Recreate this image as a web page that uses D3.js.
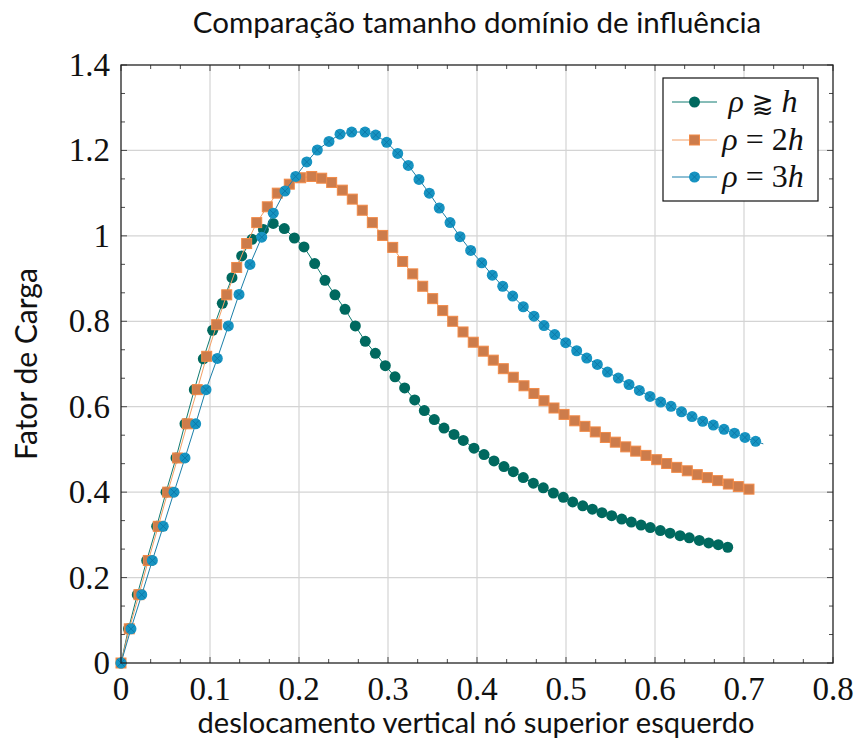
<!DOCTYPE html>
<html>
<head>
<meta charset="utf-8">
<script src="https://cdn.jsdelivr.net/npm/d3@7/dist/d3.min.js"></script>
<style>
  html, body { margin: 0; padding: 0; background: #fff; }
  svg { display: block; }
</style>
</head>
<body>
<svg id="chart" width="855" height="742"></svg>
<script>
// Load factor vs. vertical displacement of the upper-left node,
// for three sizes of the influence domain.
const chartTitle = "Comparação tamanho domínio de influência";
const xLabel = "deslocamento vertical nó superior esquerdo";
const yLabel = "Fator de Carga";

const xTicks = [0, 0.1, 0.2, 0.3, 0.4, 0.5, 0.6, 0.7, 0.8];
const xTickLabels = ["0", "0.1", "0.2", "0.3", "0.4", "0.5", "0.6", "0.7", "0.8"];
const yTicks = [0, 0.2, 0.4, 0.6, 0.8, 1.0, 1.2, 1.4];
const yTickLabels = ["0", "0.2", "0.4", "0.6", "0.8", "1", "1.2", "1.4"];

// rho ⪆ h
const disp1 = [0, 0.0084, 0.0183, 0.0289, 0.0401, 0.0506, 0.0618, 0.0719, 0.0824, 0.0925,
  0.103, 0.1138, 0.1247, 0.1356, 0.1472, 0.160, 0.171, 0.1835, 0.1948, 0.2056,
  0.2176, 0.2292, 0.2404, 0.2517, 0.2633, 0.2745, 0.2858, 0.297, 0.3079, 0.3187,
  0.330, 0.3408, 0.352, 0.3629, 0.3742, 0.3846, 0.3966, 0.4079, 0.4191, 0.4303,
  0.4408, 0.452, 0.4633, 0.4745, 0.4858, 0.497, 0.5075, 0.5188, 0.5296, 0.5404,
  0.5513, 0.5626, 0.5734, 0.5843, 0.5947, 0.606, 0.6169, 0.6281, 0.6385, 0.6498,
  0.6603, 0.6711, 0.6817];
const load1 = [0, 0.08, 0.16, 0.24, 0.32, 0.40, 0.48, 0.56, 0.64, 0.712,
  0.779, 0.842, 0.902, 0.953, 0.992, 1.015, 1.029, 1.017, 0.995, 0.974,
  0.935, 0.896, 0.862, 0.828, 0.789, 0.753, 0.725, 0.696, 0.670, 0.644,
  0.616, 0.591, 0.570, 0.550, 0.535, 0.521, 0.503, 0.488, 0.473, 0.460,
  0.448, 0.434, 0.421, 0.410, 0.398, 0.388, 0.377, 0.368, 0.360, 0.352,
  0.345, 0.337, 0.330, 0.323, 0.317, 0.310, 0.304, 0.298, 0.293, 0.287,
  0.281, 0.277, 0.271];

// rho = 2h
const disp2 = [0, 0.0093, 0.0202, 0.0307, 0.0419, 0.0525, 0.0637, 0.0745, 0.0857, 0.0963,
  0.1075, 0.1188, 0.130, 0.1412, 0.1525, 0.1644, 0.1756, 0.1891, 0.2019, 0.2143,
  0.2255, 0.2367, 0.2487, 0.2599, 0.2711, 0.2824, 0.294, 0.3053, 0.3165, 0.3278,
  0.339, 0.3502, 0.3615, 0.3727, 0.3843, 0.3958, 0.4071, 0.4183, 0.4296, 0.4408,
  0.4528, 0.464, 0.4753, 0.4865, 0.4978, 0.5098, 0.5213, 0.5329, 0.5442, 0.5554,
  0.5671, 0.5783, 0.5899, 0.6019, 0.6131, 0.6244, 0.6363, 0.6475, 0.6588, 0.6704,
  0.6824, 0.6936, 0.7056];
const load2 = [0, 0.08, 0.16, 0.24, 0.32, 0.40, 0.48, 0.56, 0.64, 0.718,
  0.792, 0.862, 0.926, 0.982, 1.031, 1.068, 1.100, 1.121, 1.136, 1.139,
  1.135, 1.125, 1.107, 1.086, 1.060, 1.031, 1.001, 0.973, 0.940, 0.911,
  0.882, 0.853, 0.825, 0.800, 0.775, 0.751, 0.730, 0.709, 0.689, 0.669,
  0.649, 0.631, 0.614, 0.597, 0.582, 0.567, 0.554, 0.541, 0.528, 0.517,
  0.506, 0.496, 0.486, 0.476, 0.467, 0.458, 0.450, 0.441, 0.434, 0.427,
  0.419, 0.413, 0.407];

// rho = 3h (last sample carries no marker)
const disp3 = [0, 0.0112, 0.0233, 0.0352, 0.0475, 0.0596, 0.0719, 0.0839, 0.0955, 0.1082,
  0.1206, 0.1326, 0.1449, 0.1581, 0.1711, 0.1843, 0.1963, 0.2087, 0.2206, 0.2337,
  0.2461, 0.2592, 0.2742, 0.2862, 0.2985, 0.3109, 0.3228, 0.3348, 0.3464, 0.3576,
  0.3697, 0.3809, 0.3929, 0.4053, 0.4172, 0.4289, 0.4401, 0.452, 0.464, 0.4753,
  0.4873, 0.4997, 0.512, 0.5233, 0.5352, 0.5466, 0.5588, 0.5708, 0.5824, 0.5944,
  0.6064, 0.618, 0.6298, 0.6416, 0.6536, 0.6655, 0.6775, 0.6893, 0.7011, 0.7131,
  0.7217];
const load3 = [0, 0.08, 0.16, 0.24, 0.32, 0.40, 0.48, 0.56, 0.64, 0.713,
  0.789, 0.863, 0.933, 0.997, 1.053, 1.105, 1.139, 1.173, 1.201, 1.221,
  1.238, 1.243, 1.243, 1.236, 1.219, 1.193, 1.165, 1.132, 1.100, 1.065,
  1.031, 0.998, 0.966, 0.937, 0.908, 0.882, 0.859, 0.834, 0.812, 0.790,
  0.769, 0.750, 0.731, 0.714, 0.699, 0.681, 0.667, 0.652, 0.638, 0.624,
  0.611, 0.601, 0.588, 0.577, 0.566, 0.557, 0.547, 0.538, 0.528, 0.519,
  0.513];

const seriesNames = ["rho_gtrapprox_h", "rho_2h", "rho_3h"];

const svg = d3.select("#chart");
const plotLeft = 121, plotRight = 833, plotTop = 65, plotBottom = 663;

const x = d3.scaleLinear().domain([0, 0.8]).range([plotLeft, plotRight]);
const y = d3.scaleLinear().domain([0, 1.4]).range([plotBottom, plotTop]);

const serif = "'Liberation Serif', 'DejaVu Serif', serif";
const sans = "Lato, 'Open Sans', 'DejaVu Sans', sans-serif";

// grid
const grid = svg.append("g").attr("stroke", "#d4d4d4").attr("stroke-width", 1.2);
xTicks.slice(1, -1).forEach(t => grid.append("line")
  .attr("x1", x(t)).attr("x2", x(t)).attr("y1", plotTop).attr("y2", plotBottom));
yTicks.slice(1, -1).forEach(t => grid.append("line")
  .attr("x1", plotLeft).attr("x2", plotRight).attr("y1", y(t)).attr("y2", y(t)));

// inward ticks on all four sides (two minor ticks between majors)
const tickG = svg.append("g").attr("stroke", "#4a4a4a").attr("stroke-width", 1);
const xMinor = d3.range(0, 0.8 + 1e-9, 0.1 / 3);
const yMinor = d3.range(0, 1.4 + 1e-9, 0.2 / 3);
xMinor.forEach((t, i) => {
  const len = i % 3 === 0 ? 6 : 4;
  tickG.append("line").attr("x1", x(t)).attr("x2", x(t)).attr("y1", plotBottom).attr("y2", plotBottom - len);
  tickG.append("line").attr("x1", x(t)).attr("x2", x(t)).attr("y1", plotTop).attr("y2", plotTop + len);
});
yMinor.forEach((t, i) => {
  const len = i % 3 === 0 ? 6 : 4;
  tickG.append("line").attr("x1", plotLeft).attr("x2", plotLeft + len).attr("y1", y(t)).attr("y2", y(t));
  tickG.append("line").attr("x1", plotRight).attr("x2", plotRight - len).attr("y1", y(t)).attr("y2", y(t));
});

// tick labels
svg.append("g").selectAll("text").data(xTicks).join("text")
  .attr("x", d => x(d)).attr("y", 700)
  .attr("text-anchor", "middle")
  .attr("font-family", serif).attr("font-size", 33).attr("fill", "#111")
  .text((d, i) => xTickLabels[i]);
svg.append("g").selectAll("text").data(yTicks).join("text")
  .attr("x", 110).attr("y", d => y(d) + 11)
  .attr("text-anchor", "end")
  .attr("font-family", serif).attr("font-size", 33).attr("fill", "#111")
  .text((d, i) => yTickLabels[i]);

// series
const lineGen = d3.line().x(d => x(d[0])).y(d => y(d[1]));
const zip = (a, b) => a.map((v, i) => [v, b[i]]);

const styles = [
  { line: "#0f7a70", fill: "#00695f", mark: "circle" },
  { line: "#f3a066", fill: "#cd7c4b", stroke: "#f28a47", mark: "square" },
  { line: "#1b7fa9", fill: "#1794c2", cross: "#0b76a6", mark: "otimes" }
];

function drawMark(g, s, cx, cy) {
  if (s.mark === "square") {
    g.append("rect").attr("x", cx - 5).attr("y", cy - 5).attr("width", 10).attr("height", 10)
      .attr("fill", s.fill).attr("stroke", s.stroke).attr("stroke-width", 1);
  } else {
    g.append("circle").attr("cx", cx).attr("cy", cy).attr("r", 5.5).attr("fill", s.fill);
    if (s.mark === "otimes") {
      const r = 3.6;
      g.append("path")
        .attr("d", `M${cx - r},${cy - r}L${cx + r},${cy + r}M${cx - r},${cy + r}L${cx + r},${cy - r}`)
        .attr("stroke", s.cross).attr("stroke-width", 0.9).attr("fill", "none");
    }
  }
}

const allSeries = [zip(disp1, load1), zip(disp2, load2), zip(disp3, load3)];
allSeries.forEach((pts, k) => {
  const s = styles[k];
  const g = svg.append("g").attr("class", seriesNames[k]);
  g.append("path").attr("d", lineGen(pts)).attr("fill", "none")
    .attr("stroke", s.line).attr("stroke-width", 1);
  const marked = k === 2 ? pts.slice(0, -1) : pts;
  marked.forEach(p => drawMark(g, s, x(p[0]), y(p[1])));
});

// frame
svg.append("rect").attr("x", plotLeft).attr("y", plotTop)
  .attr("width", plotRight - plotLeft).attr("height", plotBottom - plotTop)
  .attr("fill", "none").attr("stroke", "#222").attr("stroke-width", 1.3);

// legend
const leg = svg.append("g");
leg.append("rect").attr("x", 663).attr("y", 78).attr("width", 155).attr("height", 123)
  .attr("fill", "#fff").attr("stroke", "#111").attr("stroke-width", 1.2);
const legY = [102, 140, 177];
styles.forEach((s, k) => {
  leg.append("line").attr("x1", 672).attr("x2", 717).attr("y1", legY[k]).attr("y2", legY[k])
    .attr("stroke", s.line).attr("stroke-width", 1);
  drawMark(leg, s, 694.5, legY[k]);
});
function legText(yy, parts) {
  const t = leg.append("text").attr("x", 763).attr("y", yy + 10)
    .attr("text-anchor", "middle").attr("font-family", serif).attr("font-size", 32).attr("fill", "#111");
  parts.forEach(p => t.append("tspan").attr("font-style", p[1] ? "italic" : "normal")
    .attr("font-family", p[2] || null).attr("font-size", p[3] || null).text(p[0]));
}
legText(legY[0], [["ρ", true], [" ", false], ["⪆", false, "'DejaVu Sans', 'DejaVu Serif', sans-serif", 26], [" ", false], ["h", true]]);
legText(legY[1], [["ρ", true], [" = 2", false], ["h", true]]);
legText(legY[2], [["ρ", true], [" = 3", false], ["h", true]]);

// titles, sized to fit their spans
function fitted(sel, target) {
  const fs = +sel.attr("font-size");
  const w = sel.node().getComputedTextLength();
  sel.attr("font-size", fs * target / w);
  return sel;
}
fitted(svg.append("text").attr("x", (plotLeft + plotRight) / 2).attr("y", 33)
  .attr("text-anchor", "middle").attr("font-family", sans).attr("font-size", 27)
  .attr("fill", "#111").text(chartTitle), 569);
fitted(svg.append("text").attr("x", (plotLeft + plotRight) / 2 - 1).attr("y", 733)
  .attr("text-anchor", "middle").attr("font-family", sans).attr("font-size", 27)
  .attr("fill", "#111").text(xLabel), 557);
fitted(svg.append("text").attr("transform", "translate(37,364) rotate(-90)")
  .attr("text-anchor", "middle").attr("font-family", sans).attr("font-size", 27)
  .attr("fill", "#111").text(yLabel), 192);
</script>
</body>
</html>
